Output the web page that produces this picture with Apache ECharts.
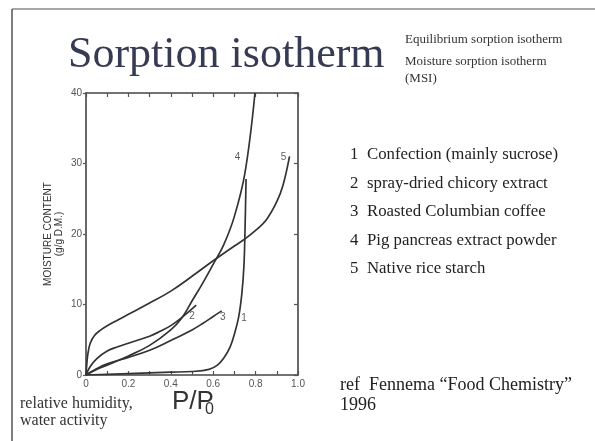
<!DOCTYPE html>
<html>
<head>
<meta charset="utf-8">
<script src="https://cdn.jsdelivr.net/npm/echarts@6/dist/echarts.min.js"></script>
<style>
  html, body { margin: 0; padding: 0; background: #fff; }
  #chart { width: 595px; height: 441px; }
</style>
</head>
<body>
<div id="chart"></div>
<script>
// Water activity (x) and moisture content, g/100 g dry matter (y), per product
const awConfection = [0, 0.2, 0.4, 0.5, 0.58, 0.62, 0.65, 0.68, 0.70, 0.72, 0.735, 0.745, 0.75, 0.755];
const mcConfection = [0, 0.2, 0.4, 0.5, 0.8, 1.4, 2.4, 4.0, 5.8, 8.2, 11.5, 15.5, 20.5, 27.8];

const awChicory = [0, 0.02, 0.05, 0.1, 0.15, 0.2, 0.25, 0.3, 0.35, 0.4, 0.45, 0.52];
const mcChicory = [0, 1.2, 2.3, 3.4, 4.0, 4.5, 5.0, 5.5, 6.2, 7.0, 8.1, 9.9];

const awCoffee = [0, 0.05, 0.1, 0.2, 0.3, 0.4, 0.5, 0.55, 0.6, 0.64];
const mcCoffee = [0, 0.9, 1.6, 2.5, 3.5, 4.9, 6.4, 7.3, 8.3, 9.1];

const awPancreas = [0, 0.05, 0.1, 0.2, 0.3, 0.4, 0.45, 0.5, 0.55, 0.6, 0.65, 0.7, 0.75, 0.797];
const mcPancreas = [0, 0.8, 1.4, 2.7, 4.2, 6.4, 8.0, 10.5, 13.0, 15.7, 18.5, 22.5, 28.7, 40];

const awRice = [0, 0.005, 0.01, 0.02, 0.04, 0.07, 0.1, 0.15, 0.2, 0.3, 0.4, 0.5, 0.6, 0.7, 0.75, 0.8, 0.85, 0.9, 0.93, 0.96];
const mcRice = [0, 2.0, 3.2, 4.5, 5.6, 6.4, 7.0, 7.8, 8.6, 10.2, 11.9, 14.0, 16.2, 18.3, 19.3, 20.5, 22.0, 24.6, 27.0, 31.0];

// Curve numbers written next to each isotherm
const curveTags = ['1', '2', '3', '4', '5'];
const tagAw = [0.745, 0.50, 0.645, 0.715, 0.932];
const tagMc = [8.0, 8.3, 8.2, 30.9, 30.9];

// Key to the numbered curves
const productNames = [
  'Confection (mainly sucrose)',
  'spray-dried chicory extract',
  'Roasted Columbian coffee',
  'Pig pancreas extract powder',
  'Native rice starch'
];

const xTicks = [0, 0.2, 0.4, 0.6, 0.8, 1.0];
const yTicks = [0, 10, 20, 30, 40];

const pairs = (xs, ys) => xs.map((x, i) => [x, ys[i]]);

const ink = '#333';
const serif = '"Liberation Serif", "Times New Roman", serif';
const sans = '"Liberation Sans", Arial, sans-serif';

function curve(name, xs, ys) {
  return {
    name: name,
    type: 'line',
    data: pairs(xs, ys),
    smooth: 0.4,
    showSymbol: false,
    symbol: 'none',
    lineStyle: { color: ink, width: 1.7 },
    z: 3
  };
}

const chart = echarts.init(document.getElementById('chart'), null, { renderer: 'canvas' });

const keyGraphics = [];
productNames.forEach((name, i) => {
  const y = 155.5 + i * 28.5;
  keyGraphics.push({
    type: 'text', left: 350, top: y - 9,
    style: { text: curveTags[i], font: '16.8px ' + serif, fill: '#222' }
  });
  keyGraphics.push({
    type: 'text', left: 367, top: y - 9,
    style: { text: name, font: '16.8px ' + serif, fill: '#222' }
  });
});

const option = {
  animation: false,
  backgroundColor: '#fff',
  grid: { left: 86, right: 297, top: 93, bottom: 66, containLabel: false },
  xAxis: [
    {
      type: 'value', min: 0, max: 1, interval: 0.1, position: 'bottom',
      axisLine: { show: true, onZero: false, lineStyle: { color: '#444', width: 1.6 } },
      axisTick: { show: true, inside: true, length: 4, lineStyle: { color: '#555', width: 1.2 } },
      axisLabel: {
        color: '#555', fontSize: 10, fontFamily: sans, margin: 4,
        formatter: function (v) {
          const hit = xTicks.find(t => Math.abs(t - v) < 1e-6);
          if (hit === undefined) return '';
          return hit === 0 ? '0' : hit.toFixed(1);
        }
      },
      splitLine: { show: false }
    },
    {
      type: 'value', min: 0, max: 1, interval: 0.1, position: 'top',
      axisLine: { show: true, onZero: false, lineStyle: { color: '#444', width: 1.6 } },
      axisTick: { show: true, inside: true, length: 4, lineStyle: { color: '#555', width: 1.2 } },
      axisLabel: { show: false },
      splitLine: { show: false }
    }
  ],
  yAxis: [
    {
      type: 'value', min: 0, max: 40, interval: 10, position: 'left',
      name: 'MOISTURE CONTENT\n(g/g D.M.)',
      nameLocation: 'middle', nameRotate: 90, nameGap: 21,
      nameTextStyle: { color: '#333', fontSize: 10, fontFamily: sans, lineHeight: 11, align: 'center' },
      axisLine: { show: true, onZero: false, lineStyle: { color: '#444', width: 1.6 } },
      axisTick: { show: true, inside: false, length: 3, lineStyle: { color: '#555', width: 1.2 } },
      axisLabel: {
        color: '#555', fontSize: 10, fontFamily: sans, margin: 4,
        formatter: function (v) { return yTicks.indexOf(v) >= 0 ? String(v) : ''; }
      },
      splitLine: { show: false }
    },
    {
      type: 'value', min: 0, max: 40, interval: 10, position: 'right',
      axisLine: { show: true, onZero: false, lineStyle: { color: '#444', width: 1.6 } },
      axisTick: { show: true, inside: true, length: 4, lineStyle: { color: '#555', width: 1.2 } },
      axisLabel: { show: false },
      splitLine: { show: false }
    }
  ],
  series: [
    curve('Confection (mainly sucrose)', awConfection, mcConfection),
    curve('spray-dried chicory extract', awChicory, mcChicory),
    curve('Roasted Columbian coffee', awCoffee, mcCoffee),
    curve('Pig pancreas extract powder', awPancreas, mcPancreas),
    curve('Native rice starch', awRice, mcRice),
    {
      name: 'curve numbers',
      type: 'scatter',
      symbolSize: 0,
      data: curveTags.map((t, i) => [tagAw[i], tagMc[i], t]),
      label: {
        show: true, position: 'inside',
        formatter: p => p.value[2],
        color: '#333', fontSize: 10, fontFamily: sans
      },
      z: 4
    }
  ],
  graphic: [
    // slide border
    { type: 'line', shape: { x1: 12, y1: 9, x2: 595, y2: 9 }, style: { stroke: '#8a8a8a', lineWidth: 1.5 } },
    { type: 'line', shape: { x1: 12, y1: 9, x2: 12, y2: 441 }, style: { stroke: '#555', lineWidth: 1.5 } },
    // title and subtitles
    { type: 'text', left: 68, top: 33, style: { text: 'Sorption isotherm', font: '44px ' + serif, fill: '#363a52' } },
    { type: 'text', left: 405, top: 33, style: { text: 'Equilibrium sorption isotherm', font: '13px ' + serif, fill: '#333' } },
    { type: 'text', left: 405, top: 55, style: { text: 'Moisture sorption isotherm', font: '13px ' + serif, fill: '#333' } },
    { type: 'text', left: 405, top: 72, style: { text: '(MSI)', font: '13px ' + serif, fill: '#333' } },
    // x-axis captions
    { type: 'text', left: 20, top: 396, style: { text: 'relative humidity,', font: '16px ' + serif, fill: '#333' } },
    { type: 'text', left: 20, top: 413, style: { text: 'water activity', font: '16px ' + serif, fill: '#333' } },
    { type: 'text', left: 172, top: 389, style: { text: 'P/P', font: '26px ' + sans, fill: '#333' } },
    { type: 'text', left: 205, top: 402, style: { text: '0', font: '16px ' + sans, fill: '#333' } },
    // reference
    { type: 'text', left: 340, top: 376, style: { text: 'ref  Fennema \u201CFood Chemistry\u201D', font: '18px ' + serif, fill: '#222' } },
    { type: 'text', left: 340, top: 396, style: { text: '1996', font: '18px ' + serif, fill: '#222' } }
  ].concat(keyGraphics)
};

chart.setOption(option);
</script>
</body>
</html>
